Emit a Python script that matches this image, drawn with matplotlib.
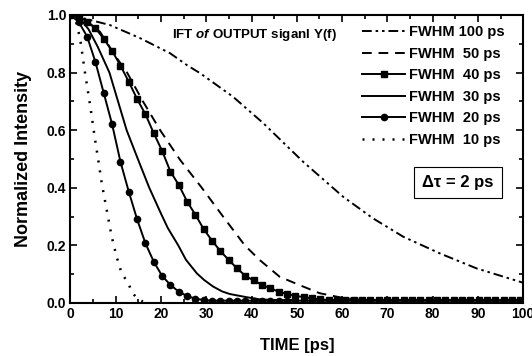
import numpy as np
import matplotlib
matplotlib.use('Agg')
from matplotlib import pyplot as plt
from matplotlib.ticker import MultipleLocator

plt.rcParams['font.family'] = ['Liberation Sans', 'DejaVu Sans']
plt.rcParams['font.weight'] = 'bold'
plt.rcParams['mathtext.fontset'] = 'custom'
plt.rcParams['mathtext.it'] = 'Liberation Sans:italic:bold'
plt.rcParams['mathtext.rm'] = 'Liberation Sans:bold'

# FWHM 100 ps (dash-dot-dot)
t100 = [0, 8.7, 15.3, 22, 25.7, 28.6, 35.9, 42.6, 51.4, 60.2, 66.8, 73.5, 81.6, 89.7, 99.2, 100]
i100 = [1.0, 0.965, 0.92, 0.867, 0.826, 0.798, 0.716, 0.624, 0.49, 0.369, 0.294, 0.23, 0.172, 0.12, 0.074, 0.07]

# FWHM 50 ps (dashed)
t50 = [0, 3, 6.5, 9.8, 12.5, 16, 19.8, 24.2, 29, 33.7, 38.5, 41.8, 46.2, 50.6, 55, 60, 65, 70]
i50 = [1.0, 0.985, 0.942, 0.86, 0.80, 0.70, 0.60, 0.497, 0.40, 0.30, 0.20, 0.149, 0.091, 0.062, 0.034, 0.018, 0.01, 0.008]

# FWHM 30 ps (solid)
t30 = [0, 2, 4, 6, 8.6, 10.5, 12.4, 15, 17.4, 20, 21.5, 23.8, 25.5, 27.9, 29.5, 31.5, 33.5, 35.2, 38.9, 42, 46, 50]
i30 = [1.0, 0.99, 0.95, 0.89, 0.80, 0.70, 0.60, 0.495, 0.40, 0.31, 0.26, 0.20, 0.15, 0.103, 0.08, 0.057, 0.04, 0.031, 0.02, 0.012, 0.01, 0.01]

# FWHM 10 ps (dotted)
t10 = [0, 1, 2.1, 3.2, 4.3, 5.4, 6.1, 6.9, 8.0, 9.1, 10.2, 11.3, 12.8, 13.5, 14.7, 16]
i10 = [1.0, 0.99, 0.92, 0.80, 0.69, 0.57, 0.50, 0.416, 0.323, 0.23, 0.16, 0.103, 0.068, 0.04, 0.015, 0.005]

# sample points for marker curves (step ~1.84 ps)
tm = list(np.round(np.arange(0, 100, 1.84), 2))

i40_head = [1.0, 0.994, 0.977, 0.954, 0.917, 0.875, 0.824, 0.768, 0.708, 0.655, 0.589, 0.528,
            0.456, 0.41, 0.352, 0.306, 0.256, 0.216, 0.18, 0.149, 0.12, 0.094, 0.078, 0.0625,
            0.051, 0.039, 0.031, 0.025, 0.02, 0.016, 0.012]
i20_head = [1.0, 0.975, 0.925, 0.836, 0.728, 0.62, 0.49, 0.386, 0.29, 0.207, 0.143, 0.094,
            0.0625, 0.039, 0.024, 0.015, 0.01, 0.008]
i40 = i40_head + [0.01] * (len(tm) - len(i40_head))
i20 = i20_head + [0.008] * (len(tm) - len(i20_head))

fig = plt.figure(figsize=(5.32, 3.56), dpi=100)
ax = fig.add_axes([0.1325, 0.149, 0.851, 0.809])

l100, = ax.plot(t100, i100, color='black', lw=1.4, dashes=(5, 2, 1.3, 2, 1.3, 2))
l50, = ax.plot(t50, i50, color='black', lw=1.4, dashes=(5, 3.5))
l40, = ax.plot(tm, i40, color='black', lw=1.4, marker='s', ms=4.2)
l30, = ax.plot(t30, i30, color='black', lw=1.4)
l20, = ax.plot(tm, i20, color='black', lw=1.4, marker='o', ms=4.5)
l10, = ax.plot(t10, i10, color='black', lw=1.8, dashes=(0.8, 3.2))

ax.set_xlim(0, 100)
ax.set_ylim(0, 1.0)
ax.xaxis.set_major_locator(MultipleLocator(10))
ax.xaxis.set_minor_locator(MultipleLocator(5))
ax.yaxis.set_major_locator(MultipleLocator(0.2))
ax.yaxis.set_minor_locator(MultipleLocator(0.1))
ax.yaxis.set_major_formatter(plt.FormatStrFormatter('%.1f'))
ax.tick_params(which='both', direction='in', top=True, right=True, width=1.2, labelsize=10)
ax.tick_params(which='major', length=5, pad=3)
ax.tick_params(which='minor', length=3)
for s in ax.spines.values():
    s.set_linewidth(1.5)

ax.set_xlabel('TIME [ps]', fontsize=12, fontweight='bold', labelpad=12)
ax.set_ylabel('Normalized Intensity', fontsize=13, fontweight='bold', labelpad=11)

ax.legend([l100, l50, l40, l30, l20, l10],
          ['FWHM 100 ps', 'FWHM  50 ps', 'FWHM  40 ps', 'FWHM  30 ps', 'FWHM  20 ps', 'FWHM  10 ps'],
          loc='upper right', bbox_to_anchor=(0.972, 0.985), frameon=False, fontsize=10.5,
          handlelength=3.0, handletextpad=0.25, labelspacing=0.52, borderaxespad=0)

ax.text(0.224, 0.93, r'IFT $\it{of}$ OUTPUT siganl Y(f)', transform=ax.transAxes,
        fontsize=9.6, fontweight='bold', va='center', ha='left')
ax.text(0.855, 0.418, '\u0394\u03c4 = 2 ps', transform=ax.transAxes, fontsize=12,
        fontweight='bold', ha='center', va='center',
        bbox=dict(boxstyle='square,pad=0.5', fc='white', ec='black', lw=0.8))

fig.savefig('out.png', dpi=100)
